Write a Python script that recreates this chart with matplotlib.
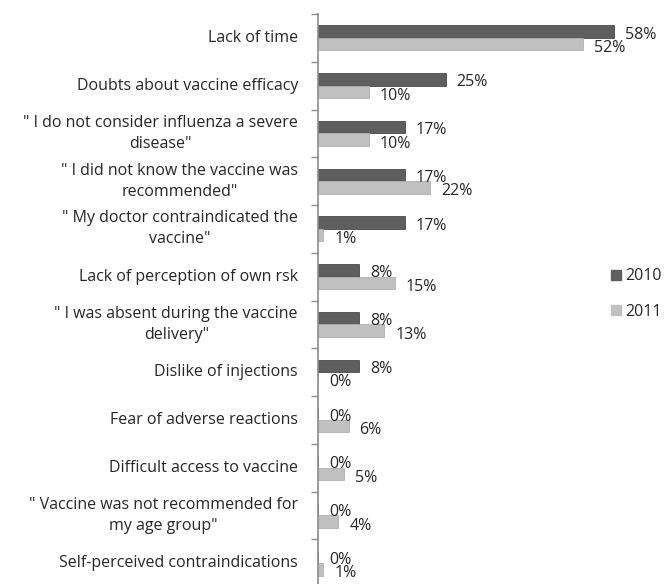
import matplotlib.pyplot as plt
from matplotlib.patches import Patch

categories = [
    "Lack of time",
    "Doubts about vaccine efficacy",
    "\" I do not consider influenza a severe\ndisease\"",
    "\" I did not know the vaccine was\nrecommended\"",
    "\" My doctor contraindicated the\nvaccine\"",
    "Lack of perception of own rsk",
    "\" I was absent during the vaccine\ndelivery\"",
    "Dislike of injections",
    "Fear of adverse reactions",
    "Difficult access to vaccine",
    "\" Vaccine was not recommended for\nmy age group\"",
    "Self-perceived contraindications",
]
values_2010 = [58, 25, 17, 17, 17, 8, 8, 8, 0, 0, 0, 0]
values_2011 = [52, 10, 10, 22, 1, 15, 13, 0, 6, 5, 4, 1]
series_names = ["2010", "2011"]

dark = "#5e5e5e"
light = "#c0c0c0"
text_color = "#262626"
axis_color = "#8c8c8c"

plt.rcParams['font.family'] = ['Open Sans', 'DejaVu Sans']
fs = 11.5

fig = plt.figure(figsize=(6.67, 5.84), dpi=100)
ax = fig.add_axes([318 / 667, -3 / 584, 1 - 318 / 667, (584 - 14 + 3) / 584])

n = len(categories)
pos = list(range(n))
h = 0.26
ax.barh([p - h / 2 for p in pos], values_2010, height=h, color=dark, edgecolor="#4a4a4a", linewidth=0.6)
ax.barh([p + h / 2 for p in pos], values_2011, height=h, color=light, edgecolor="#b0b0b0", linewidth=0.6)

for p, v in zip(pos, values_2010):
    ax.annotate(f"{v}%", (v, p - h / 2), xytext=(11, -3), textcoords="offset pixels",
                ha="left", va="center", fontsize=fs, color=text_color)
for p, v in zip(pos, values_2011):
    ax.annotate(f"{v}%", (v, p + h / 2), xytext=(11, -4), textcoords="offset pixels",
                ha="left", va="center", fontsize=fs, color=text_color)

ax.set_xlim(0, (667 - 318) / 5.1)
ax.set_ylim(n - 0.5, -0.5)
ax.set_yticks([p + 0.5 for p in pos[:-1]] + [-0.5])
ax.set_yticklabels([])
ax.tick_params(axis="y", length=5, color=axis_color, width=1)
ax.set_xticks([])
for s in ["top", "right", "bottom"]:
    ax.spines[s].set_visible(False)
ax.spines["left"].set_color(axis_color)
ax.spines["left"].set_linewidth(1.2)

for p, label in zip(pos, categories):
    ax.annotate(label, (0, p), xytext=(-20, 0), textcoords="offset pixels",
                ha="right", va="center", fontsize=fs, color=text_color,
                multialignment="center", linespacing=1.4, annotation_clip=False)

handles = [Patch(color=dark), Patch(color=light)]
fig.legend(handles, series_names, loc="upper left", bbox_to_anchor=(597 / 667, 1 - 254 / 584),
           frameon=False, fontsize=fs, handlelength=0.6, handleheight=0.6,
           labelspacing=1.2, handletextpad=0.3, labelcolor=text_color)

fig.savefig("out.png", dpi=100)
